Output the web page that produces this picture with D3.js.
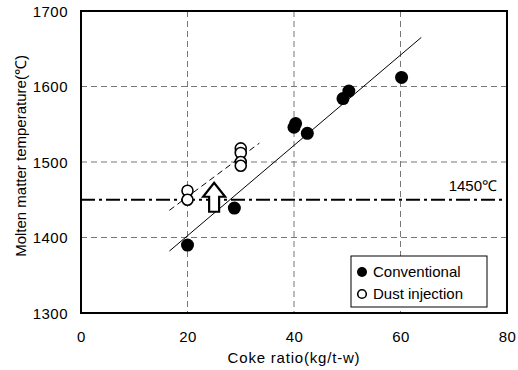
<!DOCTYPE html>
<html>
<head>
<meta charset="utf-8">
<script src="https://cdnjs.cloudflare.com/ajax/libs/d3/7.8.5/d3.min.js"></script>
<style>
  body { margin: 0; background: #fff; }
  svg text { font-family: "Liberation Sans", Arial, sans-serif; fill: #000; }
</style>
</head>
<body>
<svg width="518" height="370"></svg>
<script>
// data
var xTicks = [0, 20, 40, 60, 80];
var yTicks = [1300, 1400, 1500, 1600, 1700];
var convX = [20, 28.8, 40, 40.3, 42.5, 49.2, 50.3, 60.2];
var convY = [1390, 1439, 1546, 1551, 1538, 1584, 1594, 1612];
var dustX = [20, 20, 30, 30, 30, 30];
var dustY = [1462, 1450, 1518, 1512, 1500, 1495];
var fitSolidX = [16.6, 63.9];
var fitSolidY = [1382, 1665];
var fitDashX = [16.6, 33.5];
var fitDashY = [1436, 1525];
var limitTemp = 1450;
var limitLabel = "1450\u2103";
var legendLabels = ["Conventional", "Dust injection"];

var svg = d3.select('svg');
var margin = { top: 11, right: 11, bottom: 57, left: 81 };
var width = 518, height = 370;

var x = d3.scaleLinear().domain([0, 80]).range([margin.left, width - margin.right]);
var y = d3.scaleLinear().domain([1300, 1700]).range([height - margin.bottom, margin.top]);

// grid
svg.append('g').selectAll('line')
    .data(xTicks.slice(1, -1))
    .enter().append('line')
    .attr('x1', d => x(d)).attr('x2', d => x(d))
    .attr('y1', y(1700)).attr('y2', y(1300))
    .attr('stroke', '#777').attr('stroke-width', 1)
    .attr('stroke-dasharray', '6,4');

svg.append('g').selectAll('line')
    .data(yTicks.slice(1, -1))
    .enter().append('line')
    .attr('x1', x(0)).attr('x2', x(80))
    .attr('y1', d => y(d)).attr('y2', d => y(d))
    .attr('stroke', '#777').attr('stroke-width', 1)
    .attr('stroke-dasharray', '6,4');

// 1450 line
svg.append('line')
    .attr('x1', x(0)).attr('x2', x(80))
    .attr('y1', y(limitTemp)).attr('y2', y(limitTemp))
    .attr('stroke', '#000').attr('stroke-width', 2.2)
    .attr('stroke-dasharray', '14,4,3,4');

svg.append('text')
    .attr('x', x(80) - 10).attr('y', y(limitTemp) - 9)
    .attr('text-anchor', 'end')
    .attr('font-size', 15)
    .text(limitLabel);

// axes
var yAxis = d3.axisLeft(y).tickValues(yTicks).tickFormat(d3.format('d')).tickSize(0).tickPadding(13);
var xAxis = d3.axisBottom(x).tickValues(xTicks).tickFormat(d3.format('d')).tickSize(0).tickPadding(18);

var gy = svg.append('g')
    .attr('transform', 'translate(' + [margin.left, 0] + ')')
    .call(yAxis);
gy.select('.domain').remove();
gy.selectAll('text').attr('font-size', 15).attr('letter-spacing', 0.5).attr('dy', '0.35em');

var gx = svg.append('g')
    .attr('transform', 'translate(' + [0, height - margin.bottom] + ')')
    .call(xAxis);
gx.select('.domain').remove();
gx.selectAll('text').attr('font-size', 15).attr('letter-spacing', 0.5);

// fit lines
var line = d3.line().x(d => x(d[0])).y(d => y(d[1]));
svg.append('path')
    .attr('d', line(d3.zip(fitSolidX, fitSolidY)))
    .attr('fill', 'none').attr('stroke', '#000').attr('stroke-width', 1);
svg.append('path')
    .attr('d', line(d3.zip(fitDashX, fitDashY)))
    .attr('fill', 'none').attr('stroke', '#000').attr('stroke-width', 1)
    .attr('stroke-dasharray', '6,4');

// arrow
var ax = x(25), ay = y(1450);
svg.append('path')
    .attr('d', 'M' + (ax - 5) + ',' + (ay + 12) + 'V' + (ay - 3) + 'H' + (ax - 11) +
        'L' + ax + ',' + (ay - 17) + 'L' + (ax + 11) + ',' + (ay - 3) + 'H' + (ax + 5) +
        'V' + (ay + 12) + 'Z')
    .attr('fill', '#fff').attr('stroke', '#000').attr('stroke-width', 2.2)
    .attr('stroke-linejoin', 'miter');

// points
svg.append('g').selectAll('circle')
    .data(d3.zip(dustX, dustY))
    .enter().append('circle')
    .attr('cx', d => x(d[0])).attr('cy', d => y(d[1]))
    .attr('r', 5.5)
    .attr('fill', '#fff').attr('stroke', '#000').attr('stroke-width', 1.6);

svg.append('g').selectAll('circle')
    .data(d3.zip(convX, convY))
    .enter().append('circle')
    .attr('cx', d => x(d[0])).attr('cy', d => y(d[1]))
    .attr('r', 6.5)
    .attr('fill', '#000');

// frame
svg.append('rect')
    .attr('x', x(0)).attr('y', y(1700))
    .attr('width', x(80) - x(0)).attr('height', y(1300) - y(1700))
    .attr('fill', 'none').attr('stroke', '#000').attr('stroke-width', 2);

// legend
var lg = svg.append('g').attr('transform', 'translate(351,256)');
lg.append('rect').attr('width', 136).attr('height', 51)
    .attr('fill', '#fff').attr('stroke', '#000').attr('stroke-width', 1);
lg.append('circle').attr('cx', 11).attr('cy', 16).attr('r', 5).attr('fill', '#000');
lg.append('circle').attr('cx', 11).attr('cy', 38).attr('r', 4.3)
    .attr('fill', '#fff').attr('stroke', '#000').attr('stroke-width', 1.6);
lg.selectAll('text.lab')
    .data(legendLabels)
    .enter().append('text')
    .attr('class', 'lab')
    .attr('x', 22).attr('y', (d, i) => 16 + i * 22)
    .attr('dy', '0.35em')
    .attr('font-size', 15)
    .text(d => d);

// axis titles
svg.append('text')
    .attr('x', x(40)).attr('y', 363)
    .attr('text-anchor', 'middle')
    .attr('font-size', 15)
    .attr('letter-spacing', 0.8)
    .text('Coke ratio(kg/t-w)');

svg.append('text')
    .attr('transform', 'translate(26,156) rotate(-90)')
    .attr('text-anchor', 'middle')
    .attr('font-size', 15)
    .text('Molten matter temperature(\u2103)');
</script>
</body>
</html>
